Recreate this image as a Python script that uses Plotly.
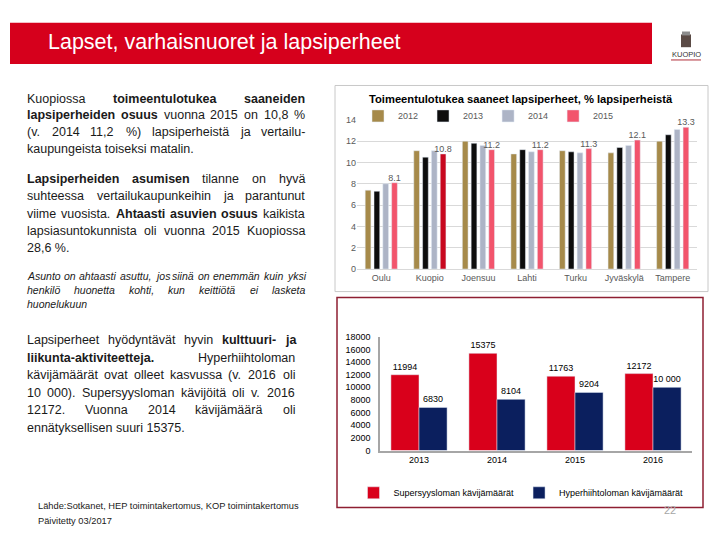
import plotly.graph_objects as go

# ---------------- data ----------------
cities = ["Oulu", "Kuopio", "Joensuu", "Lahti", "Turku", "Jyväskylä", "Tampere"]
v2012 = [7.4, 11.1, 12.0, 10.8, 11.1, 10.9, 12.0]
v2013 = [7.3, 10.5, 11.8, 11.2, 11.0, 11.4, 12.6]
v2014 = [8.0, 11.1, 11.6, 11.0, 10.9, 11.6, 13.1]
v2015 = [8.1, 10.8, 11.2, 11.2, 11.3, 12.1, 13.3]
top_series = ["2012", "2013", "2014", "2015"]

years = ["2013", "2014", "2015", "2016"]
syys = [11994, 15375, 11763, 12172]
hiihto = [6830, 8104, 9204, 10000]
syys_labels = ["11994", "15375", "11763", "12172"]
hiihto_labels = ["6830", "8104", "9204", "10 000"]

W, H = 720, 540
FONT = "Liberation Sans"


def px(x):
    return x / W


def py(y):
    return 1 - y / H


fig = go.Figure()

# ---------------- top chart ----------------
top_colors = ["#A68A4A", "#0D0D0D", "#ADB4C6", "#F2546C"]
kuopio_col = "#C8081F"
for name, vals, col in zip(top_series, [v2012, v2013, v2014, v2015], top_colors):
    if name == "2015":
        kw = dict(
            marker_color=[kuopio_col if c == "Kuopio" else col for c in cities],
            text=[f"{v:.1f}" for v in vals],
            textposition="outside",
            textfont=dict(size=9, color="#595959", family=FONT),
            constraintext="none",
            cliponaxis=False,
        )
    else:
        kw = dict(marker_color=col)
    fig.add_trace(go.Bar(x=cities, y=vals, name=name, xaxis="x", yaxis="y",
                         legend="legend", **kw))

# ---------------- bottom chart ----------------
fig.add_trace(go.Bar(x=years, y=syys, name="Supersyysloman kävijämäärät",
                     marker_color="#D9001B", text=syys_labels, textposition="outside",
                     textfont=dict(size=9, color="#000000", family=FONT),
                     constraintext="none",
                     width=0.36, offset=-0.36, cliponaxis=False,
                     xaxis="x2", yaxis="y2", legend="legend2"))
fig.add_trace(go.Bar(x=years, y=hiihto, name="Hyperhiihtoloman kävijämäärät",
                     marker_color="#0B1F5E", text=hiihto_labels, textposition="outside",
                     textfont=dict(size=9, color="#000000", family=FONT),
                     constraintext="none",
                     width=0.36, offset=0, cliponaxis=False,
                     xaxis="x2", yaxis="y2", legend="legend2"))

# ---------------- text helpers (Arial / Liberation Sans metrics) ----------------
REG = {}
for ch in "abdeghnopquäö0123456789":
    REG[ch] = 556
for ch in "ckvxyzs":
    REG[ch] = 500
for ch in "ft.,: ":
    REG[ch] = 278
for ch in "ijl":
    REG[ch] = 222
REG.update({"r": 333, "m": 833, "w": 722, "%": 889, "(": 333, ")": 333, "-": 333,
            "A": 667, "H": 722, "K": 667, "L": 556, "P": 667, "S": 667, "V": 667})
BOLD = {}
for ch in "bdghnopqu":
    BOLD[ch] = 611
for ch in "aeckvxysä":
    BOLD[ch] = 556
for ch in "ijl":
    BOLD[ch] = 278
BOLD.update({"z": 500, "f": 333, "t": 333, "r": 389, "m": 889, "w": 778, "A": 722,
             "L": 611, "-": 333, ".": 278, ",": 278, " ": 278})


def wwidth(word, bold, size):
    tbl = BOLD if bold else REG
    return sum(tbl.get(ch, 556) for ch in word) * size / 1000.0


annotations = []


def add_line(line, y, x0, x1, size, justify, italic=False, color="#1A1A1A"):
    words = []
    for w in line.split(" "):
        if w.startswith("*"):
            words.append((w[1:], True))
        else:
            words.append((w, False))

    def fmt(w, b):
        t = f"<b>{w}</b>" if b else w
        return f"<i>{t}</i>" if italic else t

    if not justify or len(words) < 2:
        text = " ".join(fmt(w, b) for w, b in words)
        annotations.append(dict(x=px(x0), y=py(y), xref="paper", yref="paper",
                                xanchor="left", yanchor="middle", showarrow=False,
                                text=text, borderpad=0,
                                font=dict(family=FONT, size=size, color=color)))
        return
    widths = [wwidth(w, b, size) for w, b in words]
    gap = (x1 - x0 - sum(widths)) / (len(words) - 1)
    pos = x0
    for (w, b), ww in zip(words, widths):
        annotations.append(dict(x=px(pos), y=py(y), xref="paper", yref="paper",
                                xanchor="left", yanchor="middle", showarrow=False,
                                text=fmt(w, b), borderpad=0,
                                font=dict(family=FONT, size=size, color=color)))
        pos += ww + gap


TS = 12.5
p1 = ["Kuopiossa *toimeentulotukea *saaneiden",
      "*lapsiperheiden *osuus vuonna 2015 on 10,8 %",
      "(v. 2014 11,2 %) lapsiperheistä ja vertailu-",
      "kaupungeista toiseksi matalin."]
for i, (ln, yy) in enumerate(zip(p1, [95.5, 112.5, 129.5, 146.5])):
    add_line(ln, yy, 26, 304, TS, i < len(p1) - 1)

p2 = ["*Lapsiperheiden *asumisen tilanne on hyvä",
      "suhteessa vertailukaupunkeihin ja parantunut",
      "viime vuosista. *Ahtaasti *asuvien *osuus kaikista",
      "lapsiasuntokunnista oli vuonna 2015 Kuopiossa",
      "28,6 %."]
for i, (ln, yy) in enumerate(zip(p2, [177, 194.8, 212.5, 230.2, 248])):
    add_line(ln, yy, 26, 304, TS, i < len(p2) - 1)

p_it = ["Asunto on ahtaasti asuttu, jos siinä on enemmän kuin yksi",
        "henkilö huonetta kohti, kun keittiötä ei lasketa",
        "huonelukuun"]
for i, (ln, yy) in enumerate(zip(p_it, [276, 290.7, 305])):
    add_line(ln, yy, 26, 304, 10.5, i < len(p_it) - 1, italic=True)

p3 = ["Lapsiperheet hyödyntävät hyvin *kulttuuri- *ja",
      "*liikunta-aktiviteetteja. Hyperhiihtoloman",
      "kävijämäärät ovat olleet kasvussa (v. 2016 oli",
      "10 000). Supersyysloman kävijöitä oli v. 2016",
      "12172. Vuonna 2014 kävijämäärä oli",
      "ennätyksellisen suuri 15375."]
for i, (ln, yy) in enumerate(zip(p3, [341.7, 359.5, 377.3, 395, 412.8, 430.6])):
    add_line(ln, yy, 26, 294, TS, i < len(p3) - 1)

# footer
annotations.append(dict(x=px(36), y=py(510.5), xref="paper", yref="paper", xanchor="left",
                        yanchor="middle", showarrow=False,
                        text="Lähde:Sotkanet, HEP toimintakertomus, KOP toimintakertomus",
                        font=dict(family=FONT, size=9.3, color="#1A1A1A")))
annotations.append(dict(x=px(36), y=py(526), xref="paper", yref="paper", xanchor="left",
                        yanchor="middle", showarrow=False, text="Päivitetty 03/2017",
                        font=dict(family=FONT, size=9.3, color="#1A1A1A")))
# page number
annotations.append(dict(x=px(670), y=py(515), xref="paper", yref="paper", xanchor="center",
                        yanchor="middle", showarrow=False, text="22",
                        font=dict(family=FONT, size=11, color="#A6A6A6")))
# header title
annotations.append(dict(x=px(46), y=py(38), xref="paper", yref="paper", xanchor="left",
                        yanchor="middle", showarrow=False,
                        text="Lapset, varhaisnuoret ja lapsiperheet",
                        font=dict(family=FONT, size=21.5, color="#FFFFFF")))
# top chart title
annotations.append(dict(x=px(521), y=py(96), xref="paper", yref="paper", xanchor="center",
                        yanchor="middle", showarrow=False,
                        text="<b>Toimeentulotukea saaneet lapsiperheet, % lapsiperheistä</b>",
                        font=dict(family=FONT, size=11.2, color="#000000")))
# logo text
annotations.append(dict(x=px(686), y=py(50), xref="paper", yref="paper", xanchor="center",
                        yanchor="middle", showarrow=False, text="KUOPIO",
                        font=dict(family=FONT, size=7.5, color="#333333")))

shapes = [
    # header bar
    dict(type="rect", xref="paper", yref="paper", x0=px(10), x1=px(652), y0=py(60), y1=py(18),
         fillcolor="#D6001C", line=dict(width=0), layer="below"),
    # top chart frame
    dict(type="rect", xref="paper", yref="paper", x0=px(335), x1=px(708), y0=py(292), y1=py(82),
         line=dict(color="#C8C8C8", width=1), layer="below"),
    # bottom chart frame
    dict(type="rect", xref="paper", yref="paper", x0=px(337), x1=px(703), y0=py(512), y1=py(298),
         line=dict(color="#8E1F32", width=1.5), layer="below"),
    # logo
    dict(type="rect", xref="paper", yref="paper", x0=px(681), x1=px(691), y0=py(43), y1=py(30),
         fillcolor="#5A4A45", line=dict(width=0)),
    dict(type="rect", xref="paper", yref="paper", x0=px(682), x1=px(690), y0=py(31), y1=py(27),
         fillcolor="#8C8C8C", line=dict(width=0)),
    dict(type="line", xref="paper", yref="paper", x0=px(671), x1=px(701), y0=py(56), y1=py(56),
         line=dict(color="#B0303A", width=1)),
]

tick_font = dict(family=FONT, size=9, color="#595959")
fig.update_layout(
    width=W, height=H, autosize=False,
    margin=dict(l=0, r=0, t=0, b=0),
    paper_bgcolor="white", plot_bgcolor="rgba(0,0,0,0)",
    font=dict(family=FONT),
    barmode="group", bargap=0.274, bargroupgap=0.35,
    xaxis=dict(domain=[px(357), px(697)], anchor="y", showline=True, linecolor="#D9D9D9",
               ticks="", tickfont=tick_font, showgrid=False, fixedrange=True),
    yaxis=dict(domain=[py(269), py(117)], anchor="x", range=[0, 14], dtick=2,
               showgrid=True, gridcolor="#D9D9D9", zeroline=False, ticks="",
               tickfont=tick_font, fixedrange=True),
    xaxis2=dict(domain=[px(380), px(692)], anchor="y2", showline=True, linecolor="#A6A6A6",
                linewidth=1.5, ticks="", showgrid=False,
                tickfont=dict(family=FONT, size=9, color="#000000"), fixedrange=True),
    yaxis2=dict(domain=[py(454), py(338)], anchor="x2", range=[0, 18000], dtick=2000,
                tickformat="d",
                showline=True, linecolor="#A6A6A6", linewidth=1.5, showgrid=False,
                zeroline=False, ticks="", ticklabelstandoff=6,
                tickfont=dict(family=FONT, size=9, color="#000000"), fixedrange=True),
    legend=dict(orientation="h", x=px(358), y=py(113), xanchor="left", yanchor="middle",
                font=dict(family=FONT, size=9, color="#595959"), bgcolor="rgba(0,0,0,0)",
                itemwidth=30, traceorder="normal"),
    legend2=dict(orientation="h", x=px(521), y=py(497), xanchor="center", yanchor="middle",
                 font=dict(family=FONT, size=9, color="#000000"), bgcolor="rgba(0,0,0,0)",
                 itemwidth=30, traceorder="normal"),
    annotations=annotations,
    shapes=shapes,
    showlegend=True,
)

fig.write_html(
    "out.html",
    config={"displayModeBar": False},
    post_script="document.body.style.margin='0';document.body.style.overflow='hidden';",
)
